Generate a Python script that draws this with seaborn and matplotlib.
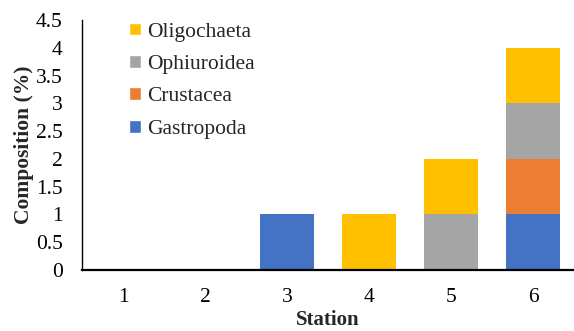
import numpy as np
import pandas as pd
import matplotlib
matplotlib.use("Agg")
import matplotlib.pyplot as plt
from matplotlib.patches import Patch
from matplotlib.ticker import FuncFormatter
import seaborn as sns

stations = ["1", "2", "3", "4", "5", "6"]
gastropoda = [0, 0, 1, 0, 0, 1]
crustacea = [0, 0, 0, 0, 0, 1]
ophiuroidea = [0, 0, 0, 0, 1, 1]
oligochaeta = [0, 0, 0, 1, 1, 1]

# bottom -> top stacking order
groups = ["Gastropoda", "Crustacea", "Ophiuroidea", "Oligochaeta"]
colors = ["#4472C4", "#ED7D31", "#A5A5A5", "#FFC000"]

sns.set_theme(style="white")
plt.rcParams['font.family'] = ['Liberation Serif', 'DejaVu Serif']

df = pd.DataFrame({"Station": stations, "Gastropoda": gastropoda,
                   "Crustacea": crustacea, "Ophiuroidea": ophiuroidea,
                   "Oligochaeta": oligochaeta})
cum = df[groups].cumsum(axis=1)

fig = plt.figure(figsize=(5.74, 3.31), dpi=100)
ax = fig.add_axes([82/574, 1 - 270/331, 1 - 82/574, 250/331])

# draw tallest cumulative first, then overlay lower layers
for g, c in zip(groups[::-1], colors[::-1]):
    sns.barplot(x=df["Station"], y=cum[g], color=c, width=0.65,
                saturation=1, ax=ax, linewidth=0)

ax.set_ylim(0, 4.5)
ax.set_xlim(-0.5, 5.5)
ax.set_yticks(np.arange(0, 4.51, 0.5))
ax.yaxis.set_major_formatter(FuncFormatter(lambda v, p: "%g" % v))
ax.tick_params(axis='both', length=0, labelsize=15.5, colors='black')
ax.tick_params(axis='y', pad=14)
ax.tick_params(axis='x', pad=13)
ax.set_xlabel("Station", fontsize=15, fontweight='bold', labelpad=2)
ax.set_ylabel("Composition (%)", fontsize=15.5, fontweight='bold', labelpad=1)

for s in ['top', 'right']:
    ax.spines[s].set_visible(False)
ax.spines['left'].set_color('black')
ax.spines['left'].set_linewidth(1.0)
ax.spines['bottom'].set_color('black')
ax.spines['bottom'].set_linewidth(1.6)

handles = [Patch(facecolor=c, label=g) for g, c in zip(groups[::-1], colors[::-1])]
ax.legend(handles=handles, loc='upper left', bbox_to_anchor=(0.095, 0.99),
          frameon=False, fontsize=15.5, handlelength=0.55, handleheight=0.55,
          handletextpad=0.3, labelspacing=0.62, borderpad=0, borderaxespad=0)

fig.savefig("out.png", dpi=100)
